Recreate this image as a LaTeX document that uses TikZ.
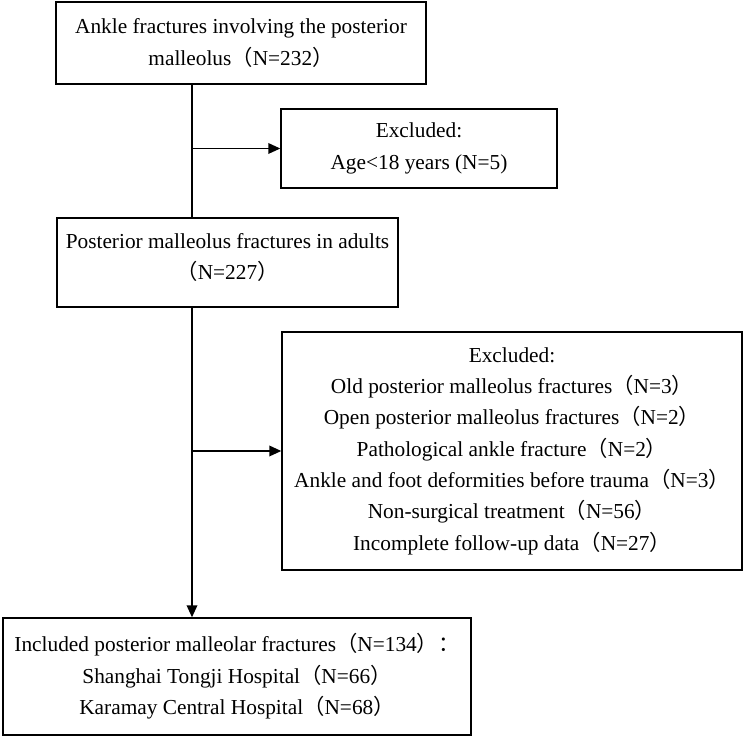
\documentclass[tikz,border=0pt]{standalone}
\usepackage{fontspec}
\setmainfont{Liberation Serif}
\newfontfamily\cjk{Noto Sans CJK SC}
\usetikzlibrary{arrows.meta, positioning}
\newcommand{\lp}{{\cjk （}}
\newcommand{\rp}{{\cjk ）}}

\begin{document}
\begin{tikzpicture}[
  x=0.75pt, y=-0.75pt,
  box/.style={draw, line width=1.1pt, align=center, inner sep=0pt,
    font=\fontsize{16}{23.5}\selectfont},
  flow/.style={line width=1.1pt, -{Triangle[length=9pt, width=8pt]}}
]
\useasboundingbox (0,0) rectangle (744,738);

\node[box, minimum width=370*0.75pt, minimum height=82*0.75pt] (ankle) at (241,43)
  {Ankle fractures involving the posterior\\ malleolus\lp N=232\rp};
\node[box, minimum width=276*0.75pt, minimum height=79*0.75pt] (exclage) at (419,148.5)
  {Excluded:\\ Age<18 years (N=5)};
\node[box, minimum width=341*0.75pt, minimum height=89*0.75pt, text depth=9pt] (adults) at (227.5,262.5)
  {Posterior malleolus fractures in adults\\ \lp N=227\rp};
\node[box, minimum width=460*0.75pt, minimum height=238*0.75pt] (exclmore) at (512,451)
  {Excluded:\\
   Old posterior malleolus fractures\lp N=3\rp\\
   Open posterior malleolus fractures\lp N=2\rp\\
   Pathological ankle fracture\lp N=2\rp\\
   Ankle and foot deformities before trauma\lp N=3\rp\\
   Non-surgical treatment\lp N=56\rp\\
   Incomplete follow-up data\lp N=27\rp};
\node[box, minimum width=468*0.75pt, minimum height=117*0.75pt] (included) at (237,676.5)
  {Included posterior malleolar fractures\lp N=134\rp{\cjk ：}\\
   Shanghai Tongji Hospital\lp N=66\rp\\
   Karamay Central Hospital\lp N=68\rp};

% main line of the flow
\coordinate (spine) at (192,0);
\draw[line width=1.1pt] (ankle.south -| spine) -- (adults.north -| spine);
\draw[flow] (adults.south -| spine) -- (included.north -| spine);
\draw[flow] (spine |- exclage.west) -- (exclage.west);
\draw[flow] (spine |- exclmore.west) -- (exclmore.west);
\end{tikzpicture}
\end{document}
